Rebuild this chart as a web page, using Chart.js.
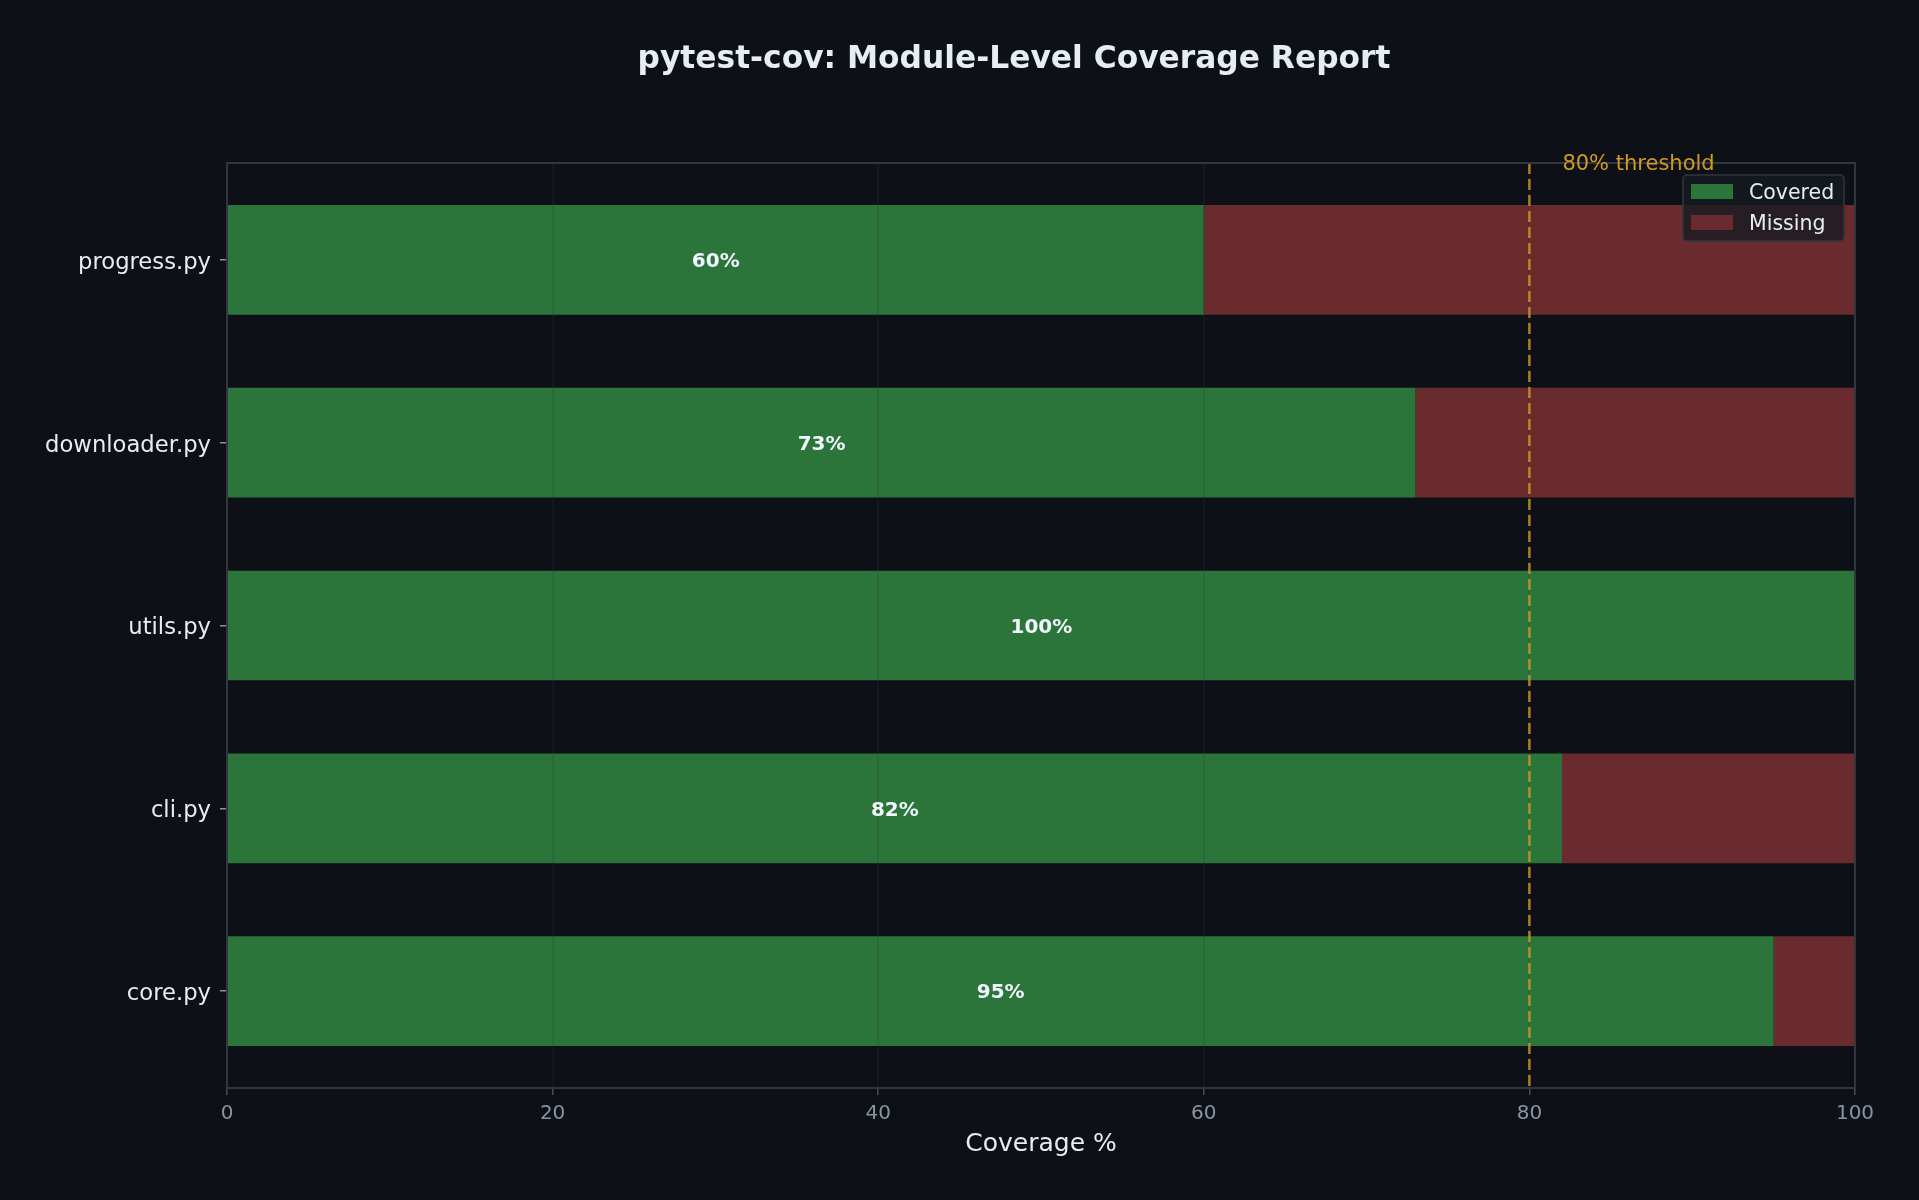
<!DOCTYPE html>
<html>
<head>
<meta charset="utf-8">
<title>pytest-cov coverage</title>
<script src="https://cdn.jsdelivr.net/npm/chart.js@4.4.1/dist/chart.umd.min.js"></script>
<style>
  html, body { margin: 0; padding: 0; background: #0d1117; overflow: hidden; }
  canvas { display: block; }
</style>
</head>
<body>
<canvas id="chart" width="1919" height="1200"></canvas>
<script>
// modules, bottom to top (same order as the matplotlib barh)
const categories = ["core.py", "cli.py", "utils.py", "downloader.py", "progress.py"];
const coveredPct = [95, 82, 100, 73, 60];
const missingPct = [5, 18, 0, 27, 40];
const xTicks = [0, 20, 40, 60, 80, 100];
const threshold = 80;

const FONT = "'DejaVu Sans', sans-serif";
const TEXT = "#e6edf3";
const MUTED = "#8b949e";
const FRAME = "#30363d";
const GREEN = "#2b753b";
const RED = "#692b2d";
const AMBER = "#d29922";

// draws everything matplotlib puts on top of the bars
const overlay = {
  id: "overlay",
  beforeDraw(chart) {
    const ctx = chart.ctx;
    ctx.save();
    ctx.fillStyle = "#0d1117";
    ctx.fillRect(0, 0, chart.width, chart.height);
    ctx.restore();
  },
  afterDatasetsDraw(chart) {
    const { ctx, chartArea: a, scales } = chart;
    const xs = scales.x;
    ctx.save();

    // faint vertical grid over the bars
    ctx.strokeStyle = "rgba(48, 54, 61, 0.2)";
    ctx.lineWidth = 2;
    xTicks.slice(1, -1).forEach(v => {
      const px = Math.round(xs.getPixelForValue(v));
      ctx.beginPath();
      ctx.moveTo(px, a.top);
      ctx.lineTo(px, a.bottom);
      ctx.stroke();
    });

    // threshold line
    const tx = xs.getPixelForValue(threshold);
    ctx.strokeStyle = "rgba(210, 153, 34, 0.8)";
    ctx.lineWidth = 2.5;
    ctx.setLineDash([11, 5]);
    ctx.beginPath();
    ctx.moveTo(tx, a.top);
    ctx.lineTo(tx, a.bottom);
    ctx.stroke();
    ctx.setLineDash([]);

    // percent labels in the middle of the covered part
    const meta = chart.getDatasetMeta(0);
    ctx.fillStyle = "#f0f6fc";
    ctx.font = "bold 20px " + FONT;
    ctx.textAlign = "center";
    ctx.textBaseline = "middle";
    meta.data.forEach((bar, i) => {
      const p = bar.getProps(["x", "y", "base"], true);
      ctx.fillText(coveredPct[i] + "%", (p.x + p.base) / 2, p.y + 2);
    });
    ctx.restore();
  },
  afterDraw(chart) {
    const { ctx, chartArea: a, scales } = chart;
    ctx.save();

    // axes frame
    ctx.strokeStyle = FRAME;
    ctx.lineWidth = 2;
    ctx.strokeRect(a.left, a.top, a.right - a.left, a.bottom - a.top);

    // title
    ctx.fillStyle = TEXT;
    ctx.font = "bold 31.3px " + FONT;
    ctx.textAlign = "center";
    ctx.textBaseline = "middle";
    ctx.fillText("pytest-cov: Module-Level Coverage Report", 1014, 60);

    // threshold label
    ctx.fillStyle = AMBER;
    ctx.font = "21px " + FONT;
    ctx.textAlign = "left";
    ctx.fillText(threshold + "% threshold", scales.x.getPixelForValue(threshold) + 33, a.top + 2);

    // legend
    const lx = a.right - 172, ly = a.top + 12, lw = 161, lh = 66;
    ctx.beginPath();
    ctx.roundRect(lx, ly, lw, lh, 4);
    ctx.fillStyle = "rgba(22, 27, 34, 0.8)";
    ctx.fill();
    ctx.strokeStyle = FRAME;
    ctx.lineWidth = 1.5;
    ctx.stroke();
    ctx.font = "20.5px " + FONT;
    ctx.textBaseline = "middle";
    chart.data.datasets.forEach((ds, i) => {
      const rowY = ly + 9 + i * 31;
      ctx.fillStyle = ds.backgroundColor;
      ctx.fillRect(lx + 8, rowY, 42, 15);
      ctx.fillStyle = TEXT;
      ctx.fillText(ds.label, lx + 66, rowY + 10);
    });
    ctx.restore();
  }
};

new Chart(document.getElementById("chart").getContext("2d"), {
  type: "bar",
  data: {
    datasets: [
      {
        label: "Covered",
        data: categories.map((c, i) => ({ x: coveredPct[i], y: i })),
        backgroundColor: GREEN,
        borderWidth: 0,
        barPercentage: 1,
        categoryPercentage: 0.6,
      },
      {
        label: "Missing",
        data: categories.map((c, i) => ({ x: missingPct[i], y: i })),
        backgroundColor: RED,
        borderWidth: 0,
        barPercentage: 1,
        categoryPercentage: 0.6,
      },
    ],
  },
  options: {
    indexAxis: "y",
    responsive: false,
    animation: false,
    layout: { padding: { left: 0, right: 64, top: 163, bottom: 0 } },
    plugins: {
      legend: { display: false },
      tooltip: { enabled: false },
    },
    scales: {
      x: {
        type: "linear",
        stacked: true,
        min: 0,
        max: 100,
        afterBuildTicks: s => { s.ticks = xTicks.map(v => ({ value: v })); },
        afterFit: s => { s.height = 112; },
        ticks: { color: MUTED, font: { family: FONT, size: 20 }, padding: 7 },
        grid: { drawOnChartArea: false, drawTicks: true, tickLength: 7, color: "#484f58", lineWidth: 1.5 },
        border: { display: false },
        title: {
          display: true,
          text: "Coverage %",
          color: TEXT,
          font: { family: FONT, size: 25 },
          padding: { top: 0, bottom: 41 },
        },
      },
      y: {
        type: "linear",
        stacked: true,
        offset: false,
        min: -0.53,
        max: 4.53,
        afterBuildTicks: s => { s.ticks = categories.map((c, i) => ({ value: i })); },
        afterFit: s => { s.width = 227; },
        ticks: {
          color: TEXT,
          font: { family: FONT, size: 22.7 },
          padding: 9,
          labelOffset: 3,
          callback: v => categories[v],
        },
        grid: { offset: false, drawOnChartArea: false, drawTicks: true, tickLength: 7, color: MUTED, lineWidth: 1.5 },
        border: { display: false },
      },
    },
  },
  plugins: [overlay],
});
</script>
</body>
</html>
